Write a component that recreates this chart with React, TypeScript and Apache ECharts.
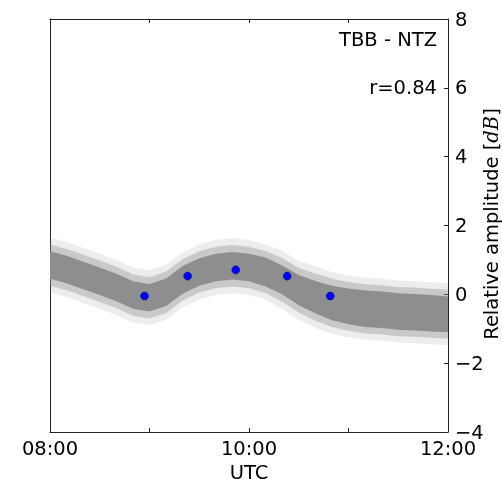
import React, { useEffect, useRef } from "react";
import * as echarts from "echarts";

// minutes after 08:00 UTC
const times = [0, 10, 20, 30, 40, 50, 60, 70, 80, 90, 100, 110, 120, 130, 140, 150, 160, 170, 180, 190, 200, 210, 220, 230, 240];
// centre of the grey TBB-NTZ cloud (dB)
const bandCenter = [0.85, 0.72, 0.55, 0.38, 0.2, -0.02, -0.1, 0.06, 0.42, 0.65, 0.78, 0.83, 0.78, 0.65, 0.42, 0.12, -0.08, -0.25, -0.35, -0.42, -0.45, -0.5, -0.52, -0.55, -0.58];
// half-width of dense core of the cloud
const coreHalf = [0.4, 0.4, 0.4, 0.4, 0.4, 0.4, 0.4, 0.4, 0.4, 0.4, 0.4, 0.4, 0.4, 0.42, 0.42, 0.44, 0.47, 0.5, 0.52, 0.53, 0.53, 0.53, 0.53, 0.53, 0.52];
// half-width of sparse fringe of the cloud
const fringeHalf = [0.8, 0.8, 0.8, 0.8, 0.8, 0.8, 0.8, 0.8, 0.8, 0.8, 0.8, 0.8, 0.8, 0.8, 0.85, 0.85, 0.9, 0.9, 0.9, 0.9, 0.9, 0.9, 0.9, 0.9, 0.9];
// blue points
const dotTimes = [57, 83, 112, 143, 169];
const dotValues = [-0.05, 0.53, 0.71, 0.53, -0.05];

const yTicks = [-4, -2, 0, 2, 4, 6, 8];
const xLabels: Record<number, string> = { 0: "08:00", 120: "10:00", 240: "12:00" };

const FONT = "DejaVu Sans";
const FS = 19.5;
const W = 502;
const H = 479;

function bandSeries(half: number[], color: string, opacity: number, z: number) {
  return {
    type: "custom",
    xAxisIndex: 0,
    yAxisIndex: 1,
    silent: true,
    z,
    data: [[0, 0]],
    renderItem: (_params: any, api: any) => {
      const upper = times.map((t, i) => api.coord([t, bandCenter[i] + half[i]]));
      const lower = times.map((t, i) => api.coord([t, bandCenter[i] - half[i]])).reverse();
      return {
        type: "polygon",
        shape: { points: [...upper, ...lower] },
        style: { fill: color, opacity },
      };
    },
  };
}

export default function App() {
  const ref = useRef<HTMLDivElement>(null);
  useEffect(() => {
    if (!ref.current) return;
    const chart = echarts.init(ref.current, null, { renderer: "svg", width: W, height: H });
    const axisLine = { show: true, onZero: false, lineStyle: { color: "#222", width: 1 } };
    chart.setOption({
      animation: false,
      textStyle: { fontFamily: FONT },
      grid: { left: 50, right: 54, top: 19, bottom: 47, containLabel: false, outerBoundsMode: "none" },
      xAxis: [
        {
          type: "value",
          min: 0,
          max: 240,
          interval: 60,
          position: "bottom",
          axisLine,
          axisTick: { show: true, inside: true, length: 4, lineStyle: { color: "#222" } },
          splitLine: { show: false },
          axisLabel: {
            margin: 6,
            color: "#000",
            fontFamily: FONT,
            fontSize: FS,
            formatter: (v: number) => xLabels[v] ?? "",
          },
          name: "UTC",
          nameLocation: "middle",
          nameGap: 25,
          nameTextStyle: { color: "#000", fontFamily: FONT, fontSize: FS },
        },
        {
          type: "value",
          min: 0,
          max: 240,
          interval: 60,
          position: "top",
          axisLine,
          axisTick: { show: true, inside: true, length: 4, lineStyle: { color: "#222" } },
          splitLine: { show: false },
          axisLabel: { show: false },
        },
      ],
      yAxis: [
        {
          type: "value",
          min: -4,
          max: 8,
          interval: 2,
          position: "left",
          axisLine,
          axisTick: { show: false },
          axisLabel: { show: false },
          splitLine: { show: false },
        },
        {
          type: "value",
          min: -4,
          max: 8,
          interval: 2,
          position: "right",
          axisLine,
          axisTick: { show: true, inside: true, length: 4, lineStyle: { color: "#222" } },
          splitLine: { show: false },
          axisLabel: {
            margin: 7,
            color: "#000",
            fontFamily: FONT,
            fontSize: FS,
            formatter: (v: number) => (yTicks.includes(v) ? (v < 0 ? "\u2212" + Math.abs(v) : String(v)) : ""),
          },
        },
      ],
      series: [
        bandSeries(fringeHalf, "#8f8f8f", 0.16, 1),
        bandSeries(coreHalf.map((h, i) => (h + fringeHalf[i]) / 2), "#8f8f8f", 0.38, 2),
        bandSeries(coreHalf, "#8e8e8e", 1, 3),
        {
          type: "scatter",
          data: dotTimes.map((t, i) => [t, dotValues[i]]),
          symbol: "circle",
          symbolSize: 8,
          itemStyle: { color: "#0000ff", borderColor: "#00008b", borderWidth: 0.5, opacity: 1 },
          xAxisIndex: 0,
          yAxisIndex: 1,
          z: 5,
        },
      ],
      graphic: [
        {
          type: "text",
          right: 65,
          top: 29,
          z: 100,
          style: { text: "TBB - NTZ", fill: "#000", font: `${FS}px "${FONT}"` },
        },
        {
          type: "text",
          right: 65,
          top: 77,
          z: 100,
          style: { text: "r=0.84", fill: "#000", font: `${FS}px "${FONT}"` },
        },
        {
          type: "text",
          x: 491,
          y: 224,
          rotation: Math.PI / 2,
          z: 100,
          style: {
            text: "{n|Relative amplitude [}{i|dB}{n|]}",
            align: "center",
            verticalAlign: "middle",
            rich: {
              n: { fill: "#000", fontFamily: FONT, fontSize: FS },
              i: { fill: "#000", fontFamily: "DejaVu Serif", fontStyle: "italic", fontSize: FS },
            },
          },
        },
      ],
    });
    return () => chart.dispose();
  }, []);
  return <div ref={ref} style={{ position: "fixed", left: 0, top: 0, width: W, height: H }} />;
}
